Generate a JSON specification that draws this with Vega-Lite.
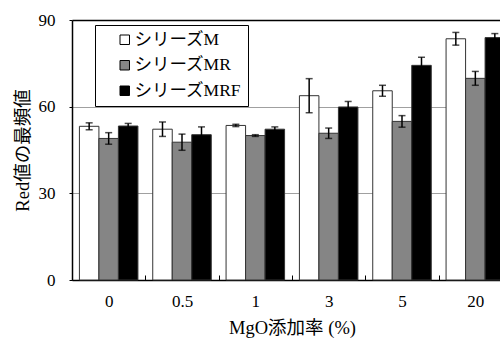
{
  "$schema": "https://vega.github.io/schema/vega-lite/v6.json",
  "autosize": "none",
  "width": 428,
  "height": 260,
  "padding": {"left": 72, "top": 20, "right": 0, "bottom": 58},
  "background": "white",
  "config": {
    "view": {"stroke": null},
    "font": "Liberation Serif, Noto Sans CJK JP",
    "axis": {
      "labelFont": "Liberation Serif, Noto Sans CJK JP",
      "titleFont": "Liberation Serif, Noto Sans CJK JP",
      "labelColor": "black",
      "titleColor": "black",
      "titleFontWeight": "normal",
      "domainColor": "black",
      "tickColor": "black"
    }
  },
  "data": {
    "values": [
      {"x": "0", "series": "シリーズM", "value": 53.2, "lo": 52.0, "hi": 54.4},
      {"x": "0", "series": "シリーズMR", "value": 49.0, "lo": 47.0, "hi": 51.0},
      {"x": "0", "series": "シリーズMRF", "value": 53.3, "lo": 52.4, "hi": 54.2},
      {"x": "0.5", "series": "シリーズM", "value": 52.2, "lo": 49.7, "hi": 54.7},
      {"x": "0.5", "series": "シリーズMR", "value": 47.7, "lo": 44.9, "hi": 50.5},
      {"x": "0.5", "series": "シリーズMRF", "value": 50.3, "lo": 47.6, "hi": 53.0},
      {"x": "1", "series": "シリーズM", "value": 53.5, "lo": 53.1, "hi": 53.9},
      {"x": "1", "series": "シリーズMR", "value": 50.0, "lo": 49.7, "hi": 50.3},
      {"x": "1", "series": "シリーズMRF", "value": 52.2, "lo": 51.4, "hi": 53.0},
      {"x": "3", "series": "シリーズM", "value": 63.8, "lo": 57.9, "hi": 69.7},
      {"x": "3", "series": "シリーズMR", "value": 50.8, "lo": 49.0, "hi": 52.6},
      {"x": "3", "series": "シリーズMRF", "value": 59.9, "lo": 58.0, "hi": 61.8},
      {"x": "5", "series": "シリーズM", "value": 65.5, "lo": 63.6, "hi": 67.4},
      {"x": "5", "series": "シリーズMR", "value": 54.9, "lo": 52.9, "hi": 56.9},
      {"x": "5", "series": "シリーズMRF", "value": 74.3, "lo": 71.5, "hi": 77.1},
      {"x": "20", "series": "シリーズM", "value": 83.5, "lo": 81.3, "hi": 85.7},
      {"x": "20", "series": "シリーズMR", "value": 69.8, "lo": 67.4, "hi": 72.2},
      {"x": "20", "series": "シリーズMRF", "value": 83.9, "lo": 82.5, "hi": 85.3}
    ]
  },
  "encoding": {
    "x": {
      "field": "x", "type": "nominal",
      "sort": ["0", "0.5", "1", "3", "5", "20"],
      "scale": {"range": [0, 440], "paddingInner": 0, "paddingOuter": 0},
      "axis": {
        "title": "MgO添加率 (%)",
        "titleFontSize": 18.5,
        "titlePadding": 9,
        "labelFontSize": 17,
        "labelAngle": 0,
        "labelPadding": 18,
        "tickBand": "extent",
        "tickSize": -5,
        "tickWidth": 1,
        "domainWidth": 1.5,
        "grid": false
      }
    },
    "xOffset": {
      "field": "series", "type": "nominal",
      "sort": ["シリーズM", "シリーズMR", "シリーズMRF"],
      "scale": {"paddingInner": 0, "paddingOuter": 0.38}
    }
  },
  "layer": [
    {
      "mark": {"type": "bar", "stroke": "#333333", "strokeWidth": 1},
      "encoding": {
        "y": {
          "field": "value", "type": "quantitative",
          "scale": {"domain": [0, 90], "nice": false},
          "axis": {
            "title": "Red値の最頻値",
            "titleFontSize": 18.5,
            "titlePadding": 6,
            "labelFontSize": 17,
            "labelPadding": 14,
            "values": [0, 30, 60, 90],
            "tickSize": 3,
            "domainWidth": 1.5,
            "grid": true,
            "gridColor": {"condition": {"test": "datum.value === 90", "value": "black"}, "value": "#a0a0a0"},
            "gridWidth": {"condition": {"test": "datum.value === 90", "value": 1.5}, "value": 1}
          }
        },
        "fill": {
          "field": "series", "type": "nominal",
          "sort": ["シリーズM", "シリーズMR", "シリーズMRF"],
          "scale": {"range": ["white", "#858585", "black"]},
          "legend": {
            "title": null,
            "orient": "none",
            "legendX": 23,
            "legendY": 5,
            "direction": "vertical",
            "strokeColor": "black",
            "fillColor": "white",
            "padding": 6,
            "symbolOffset": 15,
            "symbolType": "square",
            "symbolSize": 90,
            "symbolStrokeColor": "black",
            "symbolStrokeWidth": 1,
            "labelFont": "Liberation Serif, Noto Sans CJK JP",
            "labelFontSize": 17.5,
            "labelColor": "black",
            "labelOffset": 1,
            "rowPadding": 6.5
          }
        }
      }
    },
    {
      "mark": {"type": "rule", "color": "black", "strokeWidth": 1.5},
      "encoding": {
        "y": {"field": "lo", "type": "quantitative"},
        "y2": {"field": "hi"}
      }
    },
    {
      "mark": {"type": "tick", "color": "black", "orient": "horizontal", "size": 7, "thickness": 1.5},
      "encoding": {
        "y": {"field": "lo", "type": "quantitative"}
      }
    },
    {
      "mark": {"type": "tick", "color": "black", "orient": "horizontal", "size": 7, "thickness": 1.5},
      "encoding": {
        "y": {"field": "hi", "type": "quantitative"}
      }
    }
  ]
}
